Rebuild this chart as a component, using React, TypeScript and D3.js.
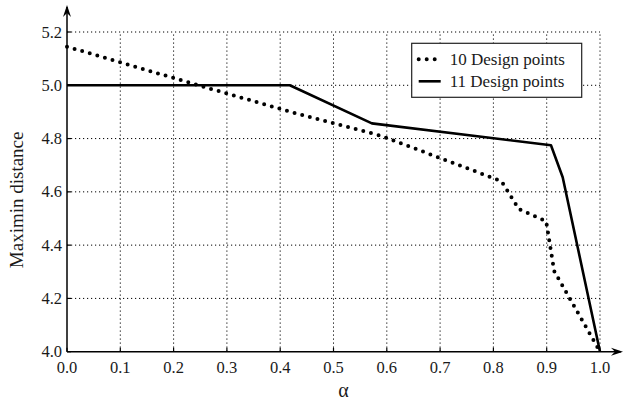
import * as d3 from "d3";
import React from "react";

const alphaTicks = [0, 0.1, 0.2, 0.3, 0.4, 0.5, 0.6, 0.7, 0.8, 0.9, 1.0];
const distTicks = [4.0, 4.2, 4.4, 4.6, 4.8, 5.0, 5.2];

// 10 design points (dotted)
const alpha10 = [0, 0.25, 0.42, 0.59, 0.815, 0.848, 0.899, 0.914, 1.0];
const dist10 = [5.145, 4.998, 4.9, 4.81, 4.64, 4.535, 4.49, 4.303, 4.0];

// 11 design points (solid)
const alpha11 = [0, 0.418, 0.572, 0.908, 0.93, 1.0];
const dist11 = [5.0, 5.0, 4.857, 4.775, 4.655, 4.0];

const seriesNames = ["10 Design points", "11 Design points"];

const W = 624;
const H = 401;
const margin = { top: 32, right: 24, bottom: 49.3, left: 67 };

const App = () => {
  const x = d3.scaleLinear().domain([0, 1]).range([margin.left, W - margin.right]);
  const y = d3.scaleLinear().domain([4.0, 5.2]).range([H - margin.bottom, margin.top]);

  const line = d3
    .line<[number, number]>()
    .x((d) => x(d[0]))
    .y((d) => y(d[1]));

  const pts10 = alpha10.map((a, i) => [a, dist10[i]] as [number, number]);
  const pts11 = alpha11.map((a, i) => [a, dist11[i]] as [number, number]);

  const x0 = x(0);
  const x1 = x(1);
  const y0 = y(4.0);
  const yTop = y(5.2);

  const lx = 411.7;
  const ly = 43.3;

  return (
    <svg
      className="chart"
      width={W}
      height={H}
      style={{ position: "absolute", left: 0, top: 0, background: "#fff" }}
    >
      <style>{`.chart text { font-family: 'Liberation Serif'; fill: #1a1a1a; }`}</style>
      <defs>
        <clipPath id="plot">
          <rect x={x0 - 3} y={yTop - 20} width={x1 - x0 + 6} height={y0 - yTop + 20} />
        </clipPath>
      </defs>

      {/* grid */}
      <g stroke="#000" strokeWidth={1} strokeDasharray="1.2 2.8">
        {alphaTicks.slice(1).map((t) => (
          <line key={"gx" + t} x1={x(t)} x2={x(t)} y1={y0} y2={yTop} />
        ))}
        {distTicks.slice(1).map((t) => (
          <line key={"gy" + t} x1={x0} x2={x1} y1={y(t)} y2={y(t)} />
        ))}
      </g>

      {/* tick marks */}
      <g stroke="#000" strokeWidth={1.2}>
        {alphaTicks.map((t) => (
          <line key={"tx" + t} x1={x(t)} x2={x(t)} y1={y0} y2={y0 - 4} />
        ))}
        {distTicks.map((t) => (
          <line key={"ty" + t} x1={x0} x2={x0 + 4} y1={y(t)} y2={y(t)} />
        ))}
      </g>

      {/* series */}
      <g clipPath="url(#plot)" fill="none">
        <path
          d={line(pts11) ?? ""}
          stroke="#000"
          strokeWidth={2.6}
          strokeLinejoin="round"
        />
        <path
          d={line(pts10) ?? ""}
          stroke="#000"
          strokeWidth={4}
          strokeLinecap="round"
          strokeDasharray="0 7.9"
        />
      </g>

      {/* axes with arrows */}
      <g stroke="#000" strokeWidth={1.5} fill="none">
        <line x1={x0} x2={x0} y1={y0} y2={7} />
        <line x1={x0} x2={621} y1={y0} y2={y0} />
      </g>
      <path d={`M${x0},5 L${x0 - 4},17 L${x0},13 L${x0 + 4},17 Z`} fill="#000" />
      <path d={`M623,${y0} L611,${y0 - 4} L615,${y0} L611,${y0 + 4} Z`} fill="#000" />

      {/* tick labels */}
      <g fontSize={16.5}>
        {alphaTicks.map((t) => (
          <text key={"lx" + t} x={x(t)} y={y0 + 21} textAnchor="middle">
            {d3.format(".1f")(t)}
          </text>
        ))}
        {distTicks.map((t) => (
          <text key={"ly" + t} x={x0 - 5} y={y(t) + 5.5} textAnchor="end">
            {d3.format(".1f")(t)}
          </text>
        ))}
      </g>

      {/* axis titles */}
      <text x={x(0.5) + 10} y={397} textAnchor="middle" fontSize={20}>
        α
      </text>
      <text
        transform={`translate(23,${(yTop + y0) / 2 + 8}) rotate(-90)`}
        textAnchor="middle"
        fontSize={19}
      >
        Maximin distance
      </text>

      {/* legend */}
      <g>
        <rect x={lx} y={ly} width={170} height={54} fill="#fff" stroke="#222" strokeWidth={1.2} />
        <line
          x1={lx + 7}
          x2={lx + 27}
          y1={ly + 16}
          y2={ly + 16}
          stroke="#000"
          strokeWidth={4}
          strokeLinecap="round"
          strokeDasharray="0 8"
        />
        <line x1={lx + 7} x2={lx + 29} y1={ly + 38} y2={ly + 38} stroke="#000" strokeWidth={2.6} />
        {seriesNames.map((n, i) => (
          <text key={n} x={lx + 38} y={ly + 21.5 + i * 22} fontSize={17}>
            {n}
          </text>
        ))}
      </g>
    </svg>
  );
};

export default App;
